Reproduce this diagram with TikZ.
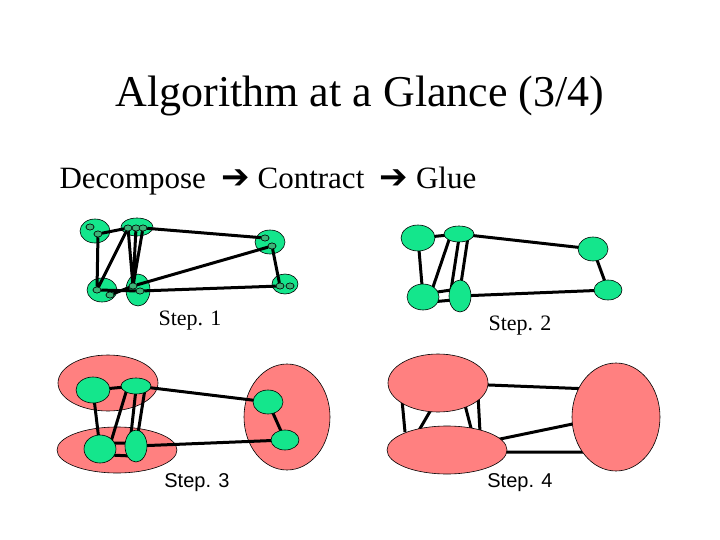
\documentclass[tikz,border=0pt]{standalone}
\usepackage{fontspec}
\setmainfont{Liberation Serif}
\newfontfamily\arial{Liberation Sans}
\newfontfamily\dvs{DejaVu Sans}
\usetikzlibrary{shapes.geometric}
\definecolor{grn}{RGB}{20,230,140}
\definecolor{dgrn}{RGB}{60,180,120}
\definecolor{pnk}{RGB}{255,128,128}
\begin{document}
\begin{tikzpicture}[x=1pt,y=-1pt,
  g/.style={ellipse,draw=black,line width=0.6pt,fill=grn,inner sep=0,minimum width=#1},
  p/.style={ellipse,draw=black,line width=0.6pt,fill=pnk,inner sep=0},
  dot/.style={ellipse,draw=black,line width=0.5pt,fill=dgrn,minimum width=8pt,minimum height=6pt,inner sep=0},
  e/.style={line width=3pt},
  lab/.style={font=\fontsize{22}{24}\selectfont}]
\useasboundingbox (0,0) rectangle (720,540);
\node at (360,96) {\fontsize{44}{50}\selectfont Algorithm at a Glance (3/4)};
\node[anchor=west] at (56,181) {\fontsize{31}{34}\selectfont Decompose\ \ {\dvs\fontsize{34}{36}\selectfont ➔}\ Contract\ \ {\dvs\fontsize{34}{36}\selectfont ➔}\ Glue};
% ---------- Step 1
\node[g=30pt,minimum height=24pt] (G1) at (95,231) {};
\node[g=32pt,minimum height=18pt] (G2) at (137,227) {};
\node[g=30pt,minimum height=24pt] (G3) at (270,242) {};
\node[g=30pt,minimum height=24pt] (G4) at (102,290) {};
\node[g=24pt,minimum height=32pt] (G5) at (138,290) {};
\node[g=26pt,minimum height=20pt] (G6) at (285,284) {};
\node[dot] (a1) at (90,227) {};
\node[dot] (a2) at (98,234) {};
\node[dot] (b1) at (128,228) {};
\node[dot] (b2) at (136,228) {};
\node[dot] (b3) at (143,228) {};
\node[dot] (c1) at (265,238) {};
\node[dot] (c2) at (272,246) {};
\node[dot] (d1) at (97,290) {};
\node[dot] (d2) at (110,295) {};
\node[dot] (e1) at (133,286) {};
\node[dot] (e2) at (140,291) {};
\node[dot] (f1) at (280,286) {};
\node[dot] (f2) at (290,286) {};
\draw[e] (a2)--(d1) (a2)--(b1) (b1)--(d1) (b1)--(e1) (b2)--(e1) (b3)--(e1) (b3)--(c1)
  (c2)--(e1) (c2)--(f1) (d2)--(e1) (d1)--(e2) (e2)--(f1);
\foreach \n in {a1,a2,b1,b2,b3,c1,c2,d1,d2,e1,e2,f1,f2} \node[dot] at (\n) {};
\node[lab] (s1) at (190,321) {Step. 1};
% ---------- Step 2
\coordinate (B2a) at (450,237); \coordinate (B2b) at (459,238); \coordinate (B2c) at (468,237);
\coordinate (D2a) at (431,293); \coordinate (D2b) at (431,302);
\coordinate (E2a) at (451,290); \coordinate (E2b) at (453,300);
\draw[e] (418,238)--(423,297) (418,238)--(459,234) (B2a)--(D2a) (B2b)--(E2a) (B2c)--(460,290)
 (459,234)--(593,249) (593,249)--(608,290) (D2a)--(E2a) (D2b)--(E2b) (460,296)--(608,290);
\node[g=34pt,minimum height=26pt] (A2) at (418,238) {};
\node[g=30pt,minimum height=16pt] (B2) at (459,234) {};
\node[g=30pt,minimum height=24pt] (C2) at (593,249) {};
\node[g=32pt,minimum height=26pt] (D2) at (423,297) {};
\node[g=22pt,minimum height=32pt] (E2) at (460,296) {};
\node[g=28pt,minimum height=20pt] (F2) at (608,290) {};
\node[lab] (s2) at (520,326) {Step. 2};
% ---------- Step 3
\node[p,minimum width=100pt,minimum height=56pt] (P31) at (108,383) {};
\node[p,minimum width=120pt,minimum height=46pt] (P32) at (117,450) {};
\node[p,minimum width=86pt,minimum height=106pt] (P33) at (287,417) {};
\draw[e] (93,390)--(100,449) (93,390)--(136,386) (127,389)--(110,445) (136,389)--(130,443) (145,389)--(136,446)
 (136,386)--(268,402) (268,402)--(285,440) (108,443)--(130,443) (110,455)--(131,456) (136,446)--(285,440);
\node[g=34pt,minimum height=26pt] (a3) at (93,390) {};
\node[g=30pt,minimum height=16pt] (b3) at (136,386) {};
\node[g=30pt,minimum height=24pt] (c3) at (268,402) {};
\node[g=32pt,minimum height=28pt] (d3) at (100,449) {};
\node[g=22pt,minimum height=32pt] (e3) at (136,446) {};
\node[g=28pt,minimum height=20pt] (f3) at (285,440) {};
\node[lab,font=\arial\fontsize{20}{22}\selectfont] (s3) at (197,483) {Step. 3};
% ---------- Step 4
\coordinate (q1) at (402,400); \coordinate (q2) at (405,432);
\coordinate (q3) at (432,408); \coordinate (q4) at (418,432);
\coordinate (q5) at (465,405); \coordinate (q6) at (472,432);
\coordinate (q7) at (478,395); \coordinate (q8) at (480,432);
\draw[e] (q1)--(q2) (q3)--(q4) (q5)--(q6) (q7)--(q8);
\draw[e] (438,383)--(616,390) (447,450)--(616,415) (447,452)--(616,452);
\node[p,minimum width=100pt,minimum height=58pt] (P41) at (438,383) {};
\node[p,minimum width=120pt,minimum height=48pt] (P42) at (447,450) {};
\node[p,minimum width=88pt,minimum height=108pt] (P43) at (616,417) {};
\node[lab,font=\arial\fontsize{20}{22}\selectfont] (s4) at (520,483) {Step. 4};
\end{tikzpicture}
\end{document}
